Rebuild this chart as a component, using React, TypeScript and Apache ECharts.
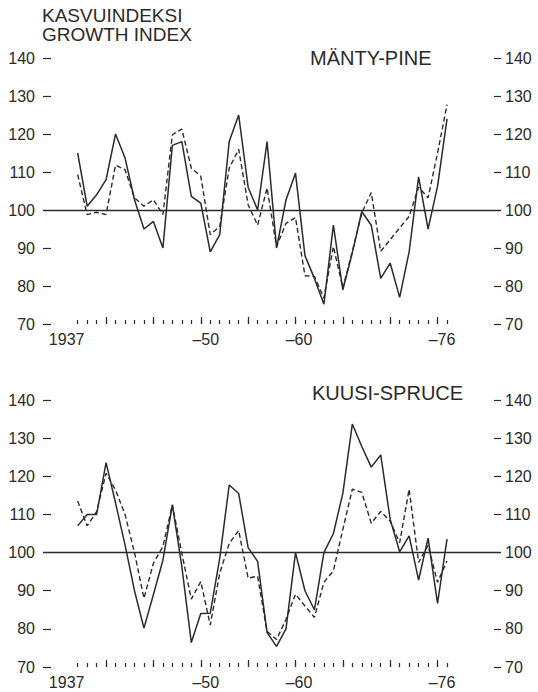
import React, { useEffect, useRef } from "react";
import * as echarts from "echarts";

const years = [
  1937, 1938, 1939, 1940, 1941, 1942, 1943, 1944, 1945, 1946,
  1947, 1948, 1949, 1950, 1951, 1952, 1953, 1954, 1955, 1956,
  1957, 1958, 1959, 1960, 1961, 1962, 1963, 1964, 1965, 1966,
  1967, 1968, 1969, 1970, 1971, 1972, 1973, 1974, 1975, 1976,
];

const pineSolid = [
  115, 101, 104, 108, 120, 113.7, 102.7, 95, 97, 90,
  117, 118, 103.6, 101.8, 89, 93.5, 118, 125, 106, 100,
  118, 90, 102.7, 109.7, 88, 82, 75.2, 96, 79, 88.7,
  99.6, 96, 82, 86, 77, 89, 108.7, 95, 106.2, 124,
];

const pineDashed = [
  109.3, 98.8, 99.4, 98.8, 111.8, 110.6, 103.2, 101, 102.7, 98.8,
  119.8, 121.3, 111, 108.9, 93.5, 95.7, 111, 116, 101.4, 96,
  105.8, 90.4, 96.5, 98, 82.7, 82.5, 76.8, 90.4, 79.5, 89.1,
  99.2, 104.6, 89.1, 92.2, 95.3, 98.3, 106, 103.2, 115, 127.7,
];

const spruceSolid = [
  107, 110, 110, 123.6, 113, 102, 90, 80.2, 89, 98,
  112.5, 96.3, 76.4, 84, 84.1, 98.5, 117.7, 115.5, 101.3, 97.7,
  79, 75.4, 80, 100, 90, 85, 100, 105, 115.5, 133.7,
  127.8, 122.4, 125.6, 108.7, 100.2, 104.4, 92.8, 103.8, 86.7, 103.5,
];

const spruceDashed = [
  113.5, 107, 110.7, 120.8, 116.4, 110, 100, 88, 97.2, 101.6,
  112.5, 99.8, 87.8, 92.4, 81, 94.6, 102.4, 105.8, 93.3, 93.8,
  79.3, 77.2, 82.5, 89.1, 86, 83, 92.2, 95.2, 106.1, 116.6,
  115.8, 107.7, 110.8, 108.2, 102.6, 116.6, 97.4, 101.9, 92.2, 97.8,
];

const majorTickYears = [1940, 1945, 1950, 1955, 1960, 1965, 1970, 1975];
const labelYears = [1937, 1950, 1960, 1976];
const labelTexts: Record<number, string> = {
  1937: "{a|1937}",
  1950: "{b|–50}",
  1960: "{c|–60}",
  1976: "{d|–76}",
};
const yTicks = [70, 80, 90, 100, 110, 120, 130, 140];

const titleLine1 = "KASVUINDEKSI";
const titleLine2 = "GROWTH INDEX";
const titlePine = "MÄNTY-PINE";
const titleSpruce = "KUUSI-SPRUCE";

const FONT = "'Liberation Sans', Arial, Helvetica, sans-serif";
const INK = "#2a2a2a";

export default function App() {
  const ref = useRef<HTMLDivElement>(null);

  useEffect(() => {
    if (!ref.current) return;
    const chart = echarts.init(ref.current, undefined, { renderer: "svg" });

    const pairs = (vals: number[]) => years.map((y, i) => [y, vals[i]]);

    const grids = [
      { left: 43, right: 37, top: 58, height: 266 },
      { left: 43, right: 37, top: 400, height: 267 },
    ];

    const xAxes: any[] = [];
    const yAxes: any[] = [];
    grids.forEach((_, gi) => {
      const base = {
        type: "value",
        gridIndex: gi,
        min: 1933.34,
        max: 1981.7,
        position: "bottom",
        axisLine: { show: false },
        splitLine: { show: false },
      };
      xAxes.push({
        ...base,
        axisTick: {
          show: true,
          inside: true,
          length: 4,
          customValues: years,
          lineStyle: { color: INK, width: 1.2 },
        },
        axisLabel: {
          show: true,
          customValues: labelYears,
          margin: 7,
          formatter: (v: number) => labelTexts[Math.round(v)] || "",
          rich: {
            a: { fontSize: 16, fontFamily: FONT, color: INK, padding: [0, 22, 0, 0] },
            b: { fontSize: 16, fontFamily: FONT, color: INK, padding: [0, 0, 0, 10] },
            c: { fontSize: 16, fontFamily: FONT, color: INK, padding: [0, 0, 0, 7] },
            d: { fontSize: 16, fontFamily: FONT, color: INK, padding: [0, 10, 0, 0] },
          },
        },
      });
      xAxes.push({
        ...base,
        axisTick: {
          show: true,
          inside: true,
          length: 7,
          customValues: majorTickYears,
          lineStyle: { color: INK, width: 1.2 },
        },
        axisLabel: { show: false },
      });
      const yBase = {
        type: "value",
        gridIndex: gi,
        min: 70,
        max: 140,
        interval: 10,
        axisLine: { show: false },
        splitLine: { show: false },
      };
      yAxes.push({
        ...yBase,
        position: "left",
        axisTick: {
          show: true,
          inside: true,
          length: 8,
          customValues: yTicks.filter((t) => t !== 100),
          lineStyle: { color: INK, width: 1.2 },
        },
        axisLabel: { margin: 8, fontSize: 16, fontFamily: FONT, color: INK },
      });
      yAxes.push({
        ...yBase,
        position: "right",
        axisTick: {
          show: true,
          inside: true,
          length: 7,
          customValues: yTicks.filter((t) => t !== 100),
          lineStyle: { color: INK, width: 1.2 },
        },
        axisLabel: { margin: 4, fontSize: 16, fontFamily: FONT, color: INK },
      });
    });

    const lineSeries = (vals: number[], gi: number, dashed: boolean, withRef: boolean) => ({
      type: "line",
      xAxisIndex: gi * 2,
      yAxisIndex: gi * 2,
      data: pairs(vals),
      symbol: "none",
      silent: true,
      lineStyle: {
        color: INK,
        width: dashed ? 1.4 : 1.5,
        type: dashed ? [5, 3] : "solid",
      },
      markLine: withRef
        ? {
            silent: true,
            symbol: "none",
            label: { show: false },
            lineStyle: { color: INK, width: 1.3, type: "solid" },
            data: [{ yAxis: 100 }],
          }
        : undefined,
      z: dashed ? 2 : 3,
    });

    const textEl = (text: string, x: number, y: number, size: number) => ({
      type: "text",
      x,
      y,
      silent: true,
      style: {
        text,
        fill: INK,
        fontSize: size,
        fontFamily: FONT,
        textAlign: "left",
        textVerticalAlign: "top",
      },
    });

    chart.setOption({
      animation: false,
      backgroundColor: "#ffffff",
      textStyle: { fontFamily: FONT },
      graphic: [
        textEl(titleLine1, 42, 6, 19),
        textEl(titleLine2, 42, 25, 19),
        textEl(titlePine, 310, 48, 20),
        textEl(titleSpruce, 312, 383, 20),
      ],
      grid: grids,
      xAxis: xAxes,
      yAxis: yAxes,
      series: [
        lineSeries(pineSolid, 0, false, true),
        lineSeries(pineDashed, 0, true, false),
        lineSeries(spruceSolid, 1, false, true),
        lineSeries(spruceDashed, 1, true, false),
      ],
    });

    return () => chart.dispose();
  }, []);

  return <div ref={ref} style={{ width: 538, height: 692, position: "absolute", left: 0, top: 0 }} />;
}
